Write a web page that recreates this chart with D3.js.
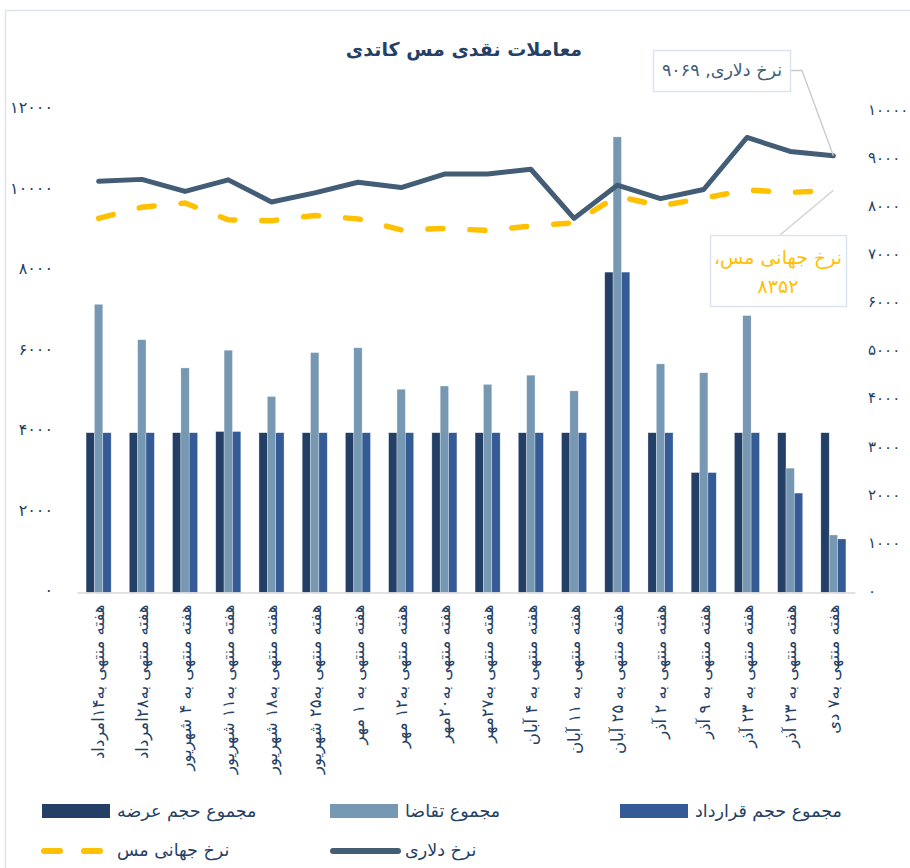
<!DOCTYPE html>
<html>
<head>
<meta charset="utf-8">
<script src="https://cdn.jsdelivr.net/npm/d3@7"></script>
<style>
  body { margin: 0; background: #fff; }
  text { font-family: "DejaVu Sans", sans-serif; }
</style>
</head>
<body>
<div id="plot"></div>
<script>
// weekly labels (as in the original, incl. the repeated ۲۳ آذر)
const weeks = [
  "هفته منتهی به۱۴امرداد",
  "هفته منتهی به۲۸امرداد",
  "هفته منتهی به ۴ شهریور",
  "هفته منتهی به۱۱ شهریور",
  "هفته منتهی به۱۸ شهریور",
  "هفته منتهی به۲۵ شهریور",
  "هفته منتهی به ۱ مهر",
  "هفته منتهی به۱۲ مهر",
  "هفته منتهی به۲۰مهر",
  "هفته منتهی به۲۷مهر",
  "هفته منتهی به ۴ آبان",
  "هفته منتهی به ۱۱ آبان",
  "هفته منتهی به ۲۵ آبان",
  "هفته منتهی به ۲ آذر",
  "هفته منتهی به ۹ آذر",
  "هفته منتهی به ۲۳ آذر",
  "هفته منتهی به ۲۳ آذر",
  "هفته منتهی به۷ دی"
];

const supply   = [3970, 3970, 3970, 4000, 3970, 3970, 3970, 3970, 3970, 3970, 3970, 3970, 7960, 3970, 2980, 3970, 3970, 3970];
const demand   = [7160, 6280, 5580, 6020, 4870, 5960, 6080, 5050, 5130, 5170, 5400, 5010, 11320, 5680, 5460, 6880, 3090, 1430];
const contract = [3970, 3970, 3970, 4000, 3970, 3970, 3970, 3970, 3970, 3970, 3970, 3970, 7960, 3970, 2980, 3970, 2470, 1330];
const dollar   = [8540, 8580, 8330, 8570, 8110, 8300, 8520, 8410, 8690, 8690, 8790, 7770, 8460, 8180, 8370, 9450, 9160, 9069];
const copper   = [7770, 8000, 8090, 7740, 7720, 7830, 7760, 7530, 7560, 7520, 7610, 7680, 8230, 8030, 8190, 8360, 8310, 8352];

const leftTicks  = [0, 2000, 4000, 6000, 8000, 10000, 12000];
const rightTicks = [0, 1000, 2000, 3000, 4000, 5000, 6000, 7000, 8000, 9000, 10000];

const barSeries = [
  { name: "مجموع حجم عرضه", values: supply, color: "#243f66" },
  { name: "مجموع  تقاضا", values: demand, color: "#7698b3" },
  { name: "مجموع  حجم قرارداد", values: contract, color: "#345b95" }
];

const toFa = s => String(s).replace(/\d/g, d => "۰۱۲۳۴۵۶۷۸۹"[d]);
const navy = "#253f65";
const lineColor = "#435d76";
const gold = "#ffc000";

const W = 910, H = 868;
const svg = d3.select("#plot").append("svg")
    .attr("width", W)
    .attr("height", H);

// chart frame
svg.append("rect")
    .attr("x", 5.5).attr("y", 10.5)
    .attr("width", W).attr("height", H)
    .attr("fill", "none")
    .attr("stroke", "#dbe4f0")
    .attr("stroke-width", 1.5);

const x0 = d3.scaleBand()
    .domain(d3.range(weeks.length))
    .range([77, 855])
    .paddingInner(0.42)
    .paddingOuter(0.21);

const x1 = d3.scaleBand()
    .domain(d3.range(barSeries.length))
    .range([0, x0.bandwidth()]);

const y = d3.scaleLinear().domain([0, 12000]).range([592.5, 109.5]);
const y2 = d3.scaleLinear().domain([0, 10000]).range([592.5, 111]);

// title
svg.append("text")
    .attr("x", 464).attr("y", 49)
    .attr("text-anchor", "middle")
    .attr("dy", "0.35em")
    .attr("direction", "rtl")
    .attr("font-size", 19)
    .attr("font-weight", "bold")
    .attr("fill", navy)
    .text("معاملات نقدی مس کاتدی");

// left axis
const gl = svg.append("g")
    .attr("transform", "translate(53,0)")
    .call(d3.axisLeft(y).tickValues(leftTicks).tickSize(0).tickPadding(0).tickFormat(toFa));
gl.select(".domain").remove();
gl.selectAll("text").attr("font-size", 16).attr("fill", navy).attr("dy", "0.2em");

// right axis
const gr = svg.append("g")
    .attr("transform", "translate(868,0)")
    .call(d3.axisRight(y2).tickValues(rightTicks).tickSize(0).tickPadding(0).tickFormat(toFa));
gr.select(".domain").remove();
gr.selectAll("text").attr("font-size", 15).attr("fill", navy).attr("dy", "0.2em");

// bars
const groups = svg.append("g").selectAll("g")
  .data(weeks.map((w, i) => i))
  .enter().append("g")
    .attr("transform", i => `translate(${x0(i)},0)`);

groups.selectAll("rect")
  .data(i => barSeries.map((s, k) => ({ k, v: s.values[i], color: s.color })))
  .enter().append("rect")
    .attr("x", d => x1(d.k))
    .attr("width", x1.bandwidth())
    .attr("y", d => y(d.v))
    .attr("height", d => y(0) - y(d.v))
    .attr("fill", d => d.color)
    .attr("stroke", "#ffffff")
    .attr("stroke-opacity", 0.5)
    .attr("stroke-width", 0.6);

// bottom axis
const gb = svg.append("g")
    .attr("transform", `translate(0,${y(0)})`)
    .call(d3.axisBottom(x0).tickSize(0).tickSizeOuter(0).tickFormat(i => weeks[i]));
gb.select(".domain").attr("stroke", "#d9d9d9").attr("stroke-width", 1.5);
gb.selectAll("text")
    .attr("transform", "rotate(-90)")
    .attr("x", -12)
    .attr("y", 0)
    .attr("dy", "0.35em")
    .attr("text-anchor", "end")
    .attr("font-size", 16.5)
    .attr("fill", navy);

// lines
const cx = i => x0(i) + x0.bandwidth() / 2;

svg.append("path")
    .datum(copper)
    .attr("fill", "none")
    .attr("stroke", gold)
    .attr("stroke-width", 5.5)
    .attr("stroke-linecap", "round")
    .attr("stroke-dasharray", "15,27")
    .attr("d", d3.line().x((d, i) => cx(i)).y(d => y2(d)));

svg.append("path")
    .datum(dollar)
    .attr("fill", "none")
    .attr("stroke", lineColor)
    .attr("stroke-width", 5)
    .attr("stroke-linecap", "round")
    .attr("stroke-linejoin", "round")
    .attr("d", d3.line().x((d, i) => cx(i)).y(d => y2(d)));

// data labels on last points
const last = weeks.length - 1;
const px = cx(last);

svg.append("path")
    .attr("fill", "none")
    .attr("stroke", "#c9c9c9")
    .attr("stroke-width", 1.3)
    .attr("d", `M790,70.5 L802,70.5 L${px},${y2(dollar[last])}`);
svg.append("rect")
    .attr("x", 653.5).attr("y", 50.5).attr("width", 137).attr("height", 41)
    .attr("fill", "#fff").attr("stroke", "#dbe4f0").attr("stroke-width", 1.5);
svg.append("text")
    .attr("x", 722).attr("y", 70)
    .attr("dy", "0.35em")
    .attr("text-anchor", "middle")
    .attr("direction", "rtl")
    .attr("font-size", 17.5)
    .attr("fill", lineColor)
    .text("نرخ دلاری, " + toFa(dollar[last]));

svg.append("path")
    .attr("fill", "none")
    .attr("stroke", "#d0d0d0")
    .attr("stroke-width", 1.3)
    .attr("d", `M780,235 L${px},${y2(copper[last])}`);
svg.append("rect")
    .attr("x", 710.5).attr("y", 235.5).attr("width", 136).attr("height", 71)
    .attr("fill", "#fff").attr("stroke", "#dbe4f0").attr("stroke-width", 1.5);
svg.append("text")
    .attr("x", 778).attr("y", 257)
    .attr("dy", "0.35em")
    .attr("text-anchor", "middle")
    .attr("direction", "rtl")
    .attr("font-size", 19)
    .attr("fill", gold)
    .text("نرخ جهانی مس،");
svg.append("text")
    .attr("x", 778).attr("y", 286)
    .attr("dy", "0.35em")
    .attr("text-anchor", "middle")
    .attr("font-size", 19)
    .attr("fill", gold)
    .text(toFa(copper[last]));

// legend
const legend = svg.append("g");
const barLegendX = [42, 330, 620];
barSeries.forEach((s, k) => {
  legend.append("rect")
      .attr("x", barLegendX[k]).attr("y", 804)
      .attr("width", 68).attr("height", 14)
      .attr("fill", s.color);
  legend.append("text")
      .attr("x", barLegendX[k] + 75).attr("y", 811)
      .attr("dy", "0.35em")
      .attr("font-size", 17.5)
      .attr("fill", navy)
      .text(s.name);
});

legend.append("line")
    .attr("x1", 44).attr("x2", 108).attr("y1", 851).attr("y2", 851)
    .attr("stroke", gold).attr("stroke-width", 6)
    .attr("stroke-linecap", "round")
    .attr("stroke-dasharray", "16,24");
legend.append("text")
    .attr("x", 117).attr("y", 850)
    .attr("dy", "0.35em")
    .attr("font-size", 17.5)
    .attr("fill", navy)
    .text("نرخ جهانی مس");

legend.append("line")
    .attr("x1", 333).attr("x2", 398).attr("y1", 851).attr("y2", 851)
    .attr("stroke", lineColor).attr("stroke-width", 6)
    .attr("stroke-linecap", "round");
legend.append("text")
    .attr("x", 405).attr("y", 850)
    .attr("dy", "0.35em")
    .attr("font-size", 17.5)
    .attr("fill", navy)
    .text("نرخ دلاری");
</script>
</body>
</html>
